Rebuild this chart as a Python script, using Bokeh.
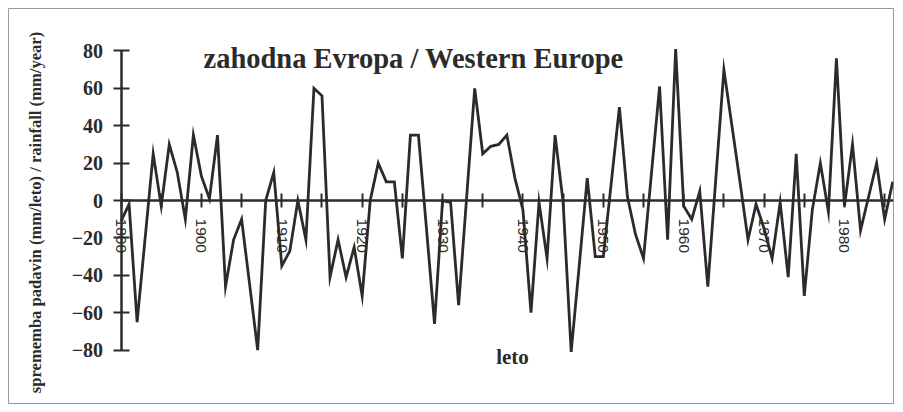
from bokeh.plotting import figure
from bokeh.models import FixedTicker, Label, Range1d
from bokeh.embed import file_html
from bokeh.resources import INLINE

# ---- data -------------------------------------------------------------
years = list(range(1890, 1987))
rainfall = [
    -11, -2, -65, -20, 25, -3, 30, 15, -10, 35,      # 1890-1899
    13, 1, 35, -46, -21, -10, -45, -80, 0, 15,       # 1900-1909
    -35, -27, 0, -21, 60, 56, -41, -21, -41, -25,    # 1910-1919
    -51, 0, 20, 10, 10, -31, 35, 35, -15, -66,       # 1920-1929
    0, -1, -56, 2, 60, 25, 29, 30, 35, 12,           # 1930-1939
    -5, -60, -1, -31, 35, -1, -81, -35, 12, -30,     # 1940-1949
    -30, 10, 50, 2, -18, -31, 15, 61, -21, 81,       # 1950-1959
    -3, -10, 5, -46, 12, 70, 40, 10, -21, -2,        # 1960-1969
    -15, -31, -1, -41, 25, -51, -5, 20, -6, 76,      # 1970-1979
    -3, 30, -16, 2, 20, -10, 10,                     # 1980-1986
]
x_ticks = [1890, 1900, 1910, 1920, 1930, 1940, 1950, 1960, 1970, 1980]
x_tick_labels = ["1800", "1900", "1910", "1920", "1930", "1940", "1950", "1960", "1970", "1980"]
x_minor_ticks = [1895, 1905, 1915, 1925, 1935, 1945, 1955, 1965, 1975, 1985]
y_ticks = [-80, -60, -40, -20, 0, 20, 40, 60, 80]

title_text = "zahodna Evropa / Western Europe"
y_label_text = "sprememba padavin (mm/leto) / rainfall (mm/year)"
x_label_text = "leto"

INK = "#2b2b2b"

# ---- figure -----------------------------------------------------------
p = figure(width=895, height=404, output_backend="svg", toolbar_location=None,
           x_range=Range1d(1876.0, 1986.1), y_range=Range1d(-109.1, 102.7),
           min_border_left=8, min_border_top=8, min_border_right=2, min_border_bottom=0)
p.xgrid.visible = False
p.ygrid.visible = False
p.outline_line_color = "#9a9a9a"
p.outline_line_width = 1
p.background_fill_color = "white"
p.border_fill_color = "white"

p.line(years, rainfall, line_color=INK, line_width=2.8, line_join="miter")

xa = p.xaxis[0]
xa.fixed_location = 0
xa.ticker = FixedTicker(ticks=x_ticks, minor_ticks=x_minor_ticks)
xa.major_label_overrides = {t: l for t, l in zip(x_ticks, x_tick_labels)}
xa.major_label_orientation = "vertical"
xa.major_tick_in = 7
xa.major_tick_out = 7
xa.minor_tick_in = 7
xa.minor_tick_out = 7
xa.major_tick_line_width = 2
xa.minor_tick_line_width = 2
xa.major_tick_line_color = INK
xa.minor_tick_line_color = INK
xa.axis_line_width = 2.5
xa.axis_line_color = INK
xa.bounds = (1890, 1990)
xa.major_label_text_font = "Liberation Sans"
xa.major_label_text_font_size = "15.5px"
xa.major_label_text_color = INK
xa.major_label_standoff = 11

ya = p.yaxis[0]
ya.fixed_location = 1890
ya.ticker = FixedTicker(ticks=y_ticks, minor_ticks=[])
ya.bounds = (-80, 80)
ya.major_tick_in = 8
ya.major_tick_out = 8
ya.minor_tick_in = 0
ya.minor_tick_out = 0
ya.major_tick_line_width = 2
ya.major_tick_line_color = INK
ya.axis_line_width = 2.5
ya.axis_line_color = INK
ya.major_label_text_font = "Liberation Serif"
ya.major_label_text_font_style = "bold"
ya.major_label_text_font_size = "20px"
ya.major_label_text_color = INK
ya.major_label_standoff = 10

p.add_layout(Label(x=195, y=346, x_units="screen", y_units="screen", text=title_text,
                   text_font="Liberation Serif", text_font_style="bold",
                   text_font_size="28.5px", text_color=INK, text_baseline="alphabetic"))
p.add_layout(Label(x=27, y=192, x_units="screen", y_units="screen", text=y_label_text,
                   angle=90, angle_units="deg", text_align="center", text_baseline="middle",
                   text_font="Liberation Serif", text_font_style="bold",
                   text_font_size="16.6px", text_color=INK))
p.add_layout(Label(x=504, y=48, x_units="screen", y_units="screen", text=x_label_text,
                   text_align="center", text_baseline="alphabetic",
                   text_font="Liberation Serif", text_font_style="bold",
                   text_font_size="21px", text_color=INK))

open("out.html", "w").write(file_html(p, INLINE))
